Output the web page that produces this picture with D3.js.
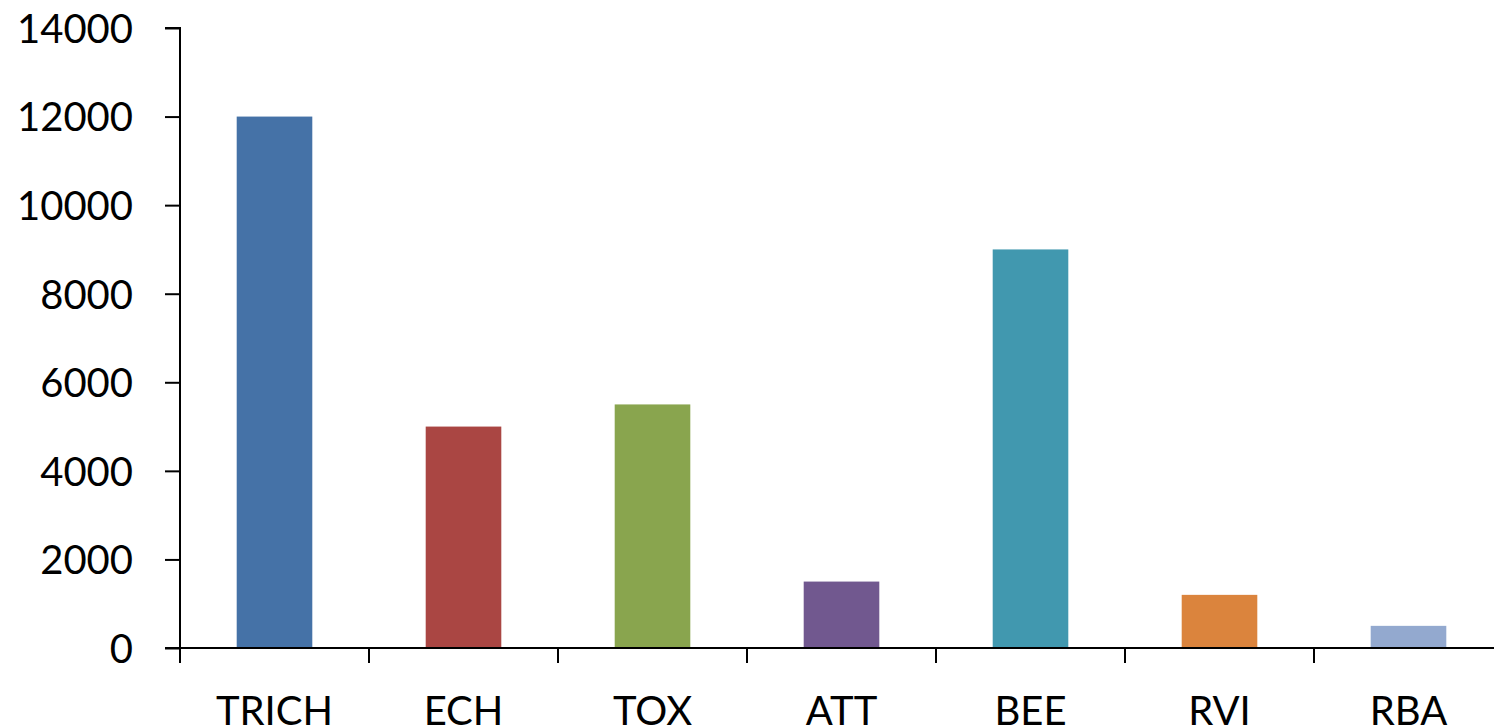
<!DOCTYPE html>
<html>
<head>
<meta charset="utf-8">
<script src="https://cdn.jsdelivr.net/npm/d3@7"></script>
<style>
  html, body { margin: 0; padding: 0; background: #fff; overflow: hidden; }
  svg { display: block; }
  text { font-family: Lato, "Open Sans", sans-serif; fill: #000; }
</style>
</head>
<body>
<svg id="chart" width="1494" height="728"></svg>
<script>
const categories = ["TRICH", "ECH", "TOX", "ATT", "BEE", "RVI", "RBA"];
const values = [12000, 5000, 5500, 1500, 9000, 1200, 500];
const colors = ["#4572A7", "#AA4643", "#89A54E", "#71588F", "#4198AF", "#DB843D", "#93A9CF"];
const yTicks = [0, 2000, 4000, 6000, 8000, 10000, 12000, 14000];

const svg = d3.select("#chart");
const x0 = 180, x1 = 1503, yTop = 28, yBottom = 648;

const x = d3.scaleBand().domain(categories).range([x0, x1]).paddingInner(0.6).paddingOuter(0.3);
const xb = d3.scaleBand().domain(categories).range([x0, x1]);
const y = d3.scaleLinear().domain([0, 14000]).range([yBottom, yTop]);

// bars
svg.append("g").selectAll("rect").data(categories).join("rect")
  .attr("x", d => x(d))
  .attr("width", x.bandwidth())
  .attr("y", (d, i) => y(values[i]))
  .attr("height", (d, i) => y(0) - y(values[i]))
  .attr("fill", (d, i) => colors[i]);

// y axis
const yAxis = svg.append("g").attr("transform", `translate(${x0},0)`)
  .call(d3.axisLeft(y).tickValues(yTicks).tickSize(15).tickPadding(32).tickFormat(d3.format("d")));
yAxis.select(".domain").attr("stroke", "#000").attr("stroke-width", 2).attr("d", `M-15,${yTop}H0V${yBottom}`);
yAxis.selectAll(".tick line").attr("stroke", "#000").attr("stroke-width", 2);
yAxis.selectAll("text").attr("font-size", 40).attr("font-family", "Lato, sans-serif").attr("dy", "0.36em");

// x axis
const xAxis = svg.append("g").attr("transform", `translate(0,${yBottom})`);
xAxis.append("line").attr("x1", x0 - 15).attr("x2", x1).attr("y1", 0).attr("y2", 0)
  .attr("stroke", "#000").attr("stroke-width", 2);
const tickPos = categories.map(c => xb(c)).concat([x1]);
xAxis.selectAll("line.tk").data(tickPos).join("line").attr("class", "tk")
  .attr("x1", d => d).attr("x2", d => d).attr("y1", 0).attr("y2", 15)
  .attr("stroke", "#000").attr("stroke-width", 2);
xAxis.selectAll("text").data(categories).join("text")
  .attr("x", d => xb(d) + xb.bandwidth() / 2)
  .attr("y", 77)
  .attr("text-anchor", "middle")
  .attr("font-size", 40)
  .text(d => d);
</script>
</body>
</html>
